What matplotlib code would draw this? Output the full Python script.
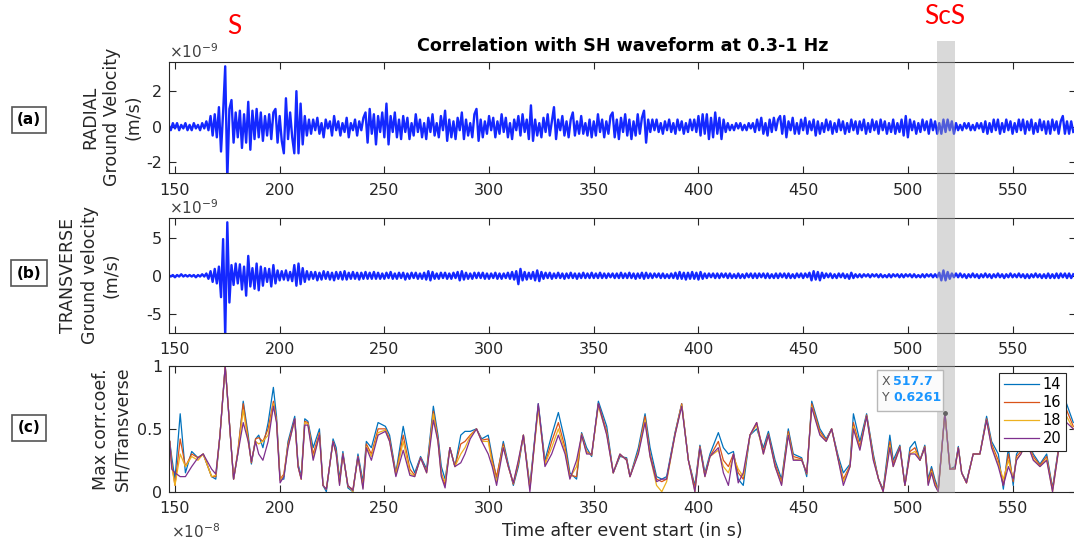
import numpy as np
import matplotlib
matplotlib.use('Agg')
import matplotlib.pyplot as plt
from matplotlib.patches import Rectangle
from matplotlib.transforms import IdentityTransform

plt.rcParams['font.family'] = 'DejaVu Sans'
plt.rcParams['axes.unicode_minus'] = False
plt.rcParams['mathtext.fontset'] = 'dejavusans'

# ground velocity, one value per second from t = 147 s, units of 1e-10 m/s
radial = [
    1, -2, 2, -1, 2, -2, 1, -1, 2, -2,
    1, -2, 2, -1, 1, -2, 2, -1, 3, -2,
    6, -5, 7, -6, 11, -14, 8, 34, -30, 10,
    15, -9, 8, -6, 9, -12, 7, -9, 14, -13,
    9, -7, 10, -6, 8, -8, 6, -5, 7, -7,
    8, 10, -9, 6, -8, -15, 16, -7, 8, -6,
    -15, 20, -15, 13, -10, 6, -5, 4, -4, 4,
    -2, 5, -4, 2, -6, 4, -1, 3, -5, 6,
    -2, 3, -5, 2, -3, 5, -6, 2, -2, 4,
    -5, 3, -2, 5, 8, -9, 10, -4, 7, -10,
    6, -3, 8, -6, 13, -10, 6, -3, 8, -6,
    4, -7, 6, -3, 5, -7, 2, -5, 7, -3,
    4, -6, 2, -7, 5, -3, 7, -5, 2, -6,
    6, -2, 9, -8, 4, -6, 3, -7, 5, -2,
    8, -7, 4, -5, 2, -6, 7, 10, -8, 4,
    -6, 3, -4, 6, -2, 5, -6, 3, -4, 7,
    -3, 5, -6, 2, -7, 4, -2, 6, -5, 7,
    -3, 4, -7, 12, -8, 4, -5, 2, -6, 5,
    -3, 7, -5, 3, 11, -7, 4, -2, 6, -5,
    3, -6, 4, 8, -5, 3, -4, 6, -4, 2,
    -5, 4, -6, 3, -5, 7, -3, 4, -6, 3,
    -4, 6, 8, -6, 4, -7, 5, -3, 7, -5,
    4, -7, 3, -5, 7, -4, 5, 9, -9, 4,
    -3, 4, -2, 4, -3, 2, -4, 3, -2, 4,
    -3, 2, -4, 4, -2, 3, -4, 2, -3, 4,
    -2, 4, -3, 6, -5, 7, -4, 7, -7, 5,
    -6, 8, -4, 5, -7, 4, -3, 2, -2, 1,
    -2, 2, -1, 2, -2, 1, -2, 2, -1, 2,
    -3, 4, -2, 5, -4, 2, -5, 4, -3, 5,
    -2, 4, 6, -4, 6, -6, 3, -2, 5, -4,
    2, -4, 4, -2, 5, -4, 3, -2, 4, -5,
    3, -4, 2, -3, 4, -2, 3, -4, 2, -3,
    4, -2, 3, -4, 2, -3, 4, -2, 3, -4,
    3, -2, 4, -4, 2, -3, 4, -2, 3, -4,
    4, -2, 3, -4, 2, -3, 4, -4, 2, -3,
    4, -5, 6, -6, 4, -2, 3, -4, 2, -3,
    4, -2, 3, -4, 4, -2, 3, -4, 2, -4,
    4, -3, 4, -2, 3, -4, 2, -2, 1, -2,
    2, -1, 2, -2, 1, -2, 2, -1, 2, -3,
    3, -4, 2, -3, 4, -2, 4, -4, 2, -3,
    4, -2, 3, -4, 2, -3, 4, -2, 4, -4,
    3, -2, 4, -4, 2, -3, 4, -2, 3, -4,
    3, -4, 4, -2, 3, -4, 3, 6, -4, 3,
    -4, 3, -3,
]

transverse = [
    1, -1, 1, -2, 1, -1, 2, -1, 1, -1,
    1, -1, 1, -2, 1, -1, 2, -1, 3, -4,
    6, -8, 9, -10, 12, -28, 48, -80, 70, -35,
    14, -12, 16, -10, 15, -18, 12, -26, 26, -14,
    10, -17, 16, -19, 12, -13, 10, -8, 9, -14,
    14, -10, 7, -6, 6, -5, 7, -6, 5, -7,
    14, -13, 16, -11, 10, -8, 6, -5, 5, -4,
    5, -6, 4, -5, 6, -4, 5, -5, 4, -6,
    5, -4, 5, -5, 6, -5, 4, -4, 5, -4,
    4, -5, 4, -4, 5, -4, 4, -4, 5, -4,
    4, -4, 3, -4, 4, -3, 5, -4, 3, -4,
    4, -3, 4, -5, 3, -4, 4, -3, 4, -4,
    3, -4, 4, -5, 6, -6, 5, -4, 3, -4,
    4, -3, 4, -4, 3, -4, 4, -3, 5, -6,
    6, -5, 4, -4, 3, -4, 4, -3, 4, -3,
    4, -4, 3, -4, 3, -3, 4, -4, 3, -4,
    3, -3, 4, -4, 5, -5, 6, -11, 9, -6,
    5, -5, 4, -4, 5, -6, 7, -7, 5, -4,
    4, -3, 4, -4, 3, -3, 4, -3, 3, -4,
    3, -3, 4, -3, 3, -4, 3, -3, 4, -3,
    3, -3, 4, -3, 3, -3, 4, -3, 3, -3,
    3, -2, 3, -3, 3, -3, 4, -3, 3, -3,
    4, -3, 3, -4, 3, -3, 4, -4, 4, -3,
    3, -3, 3, -2, 3, -3, 3, -3, 2, -3,
    3, -3, 4, -4, 5, -4, 4, -5, 4, -4,
    5, -4, 4, -5, 5, -4, 3, -3, 3, -2,
    3, -3, 3, -3, 3, -2, 3, -3, 3, -3,
    2, -3, 3, -3, 2, -3, 3, -2, 3, -3,
    3, -3, 3, -2, 3, -3, 3, -3, 2, -3,
    3, -3, 3, -2, 3, -3, 3, -3, 2, -3,
    3, -2, 3, -3, 3, -2, 4, -6, 6, -5,
    5, -6, 4, -3, 3, -2, 3, -3, 2, -3,
    3, -2, 3, -3, 2, -4, 4, -3, 2, -2,
    2, -2, 2, -1, 2, -2, 2, -1, 2, -2,
    2, -2, 1, -2, 2, -2, 2, -1, 2, -2,
    2, -2, 2, -1, 2, -2, 2, -2, 1, -2,
    2, -2, 2, -1, 2, -2, 2, -2, 4, -6,
    7, -6, 5, -4, 3, -2, 3, -2, 3, -2,
    2, -3, 2, -2, 3, -2, 2, -3, 2, -2,
    3, -2, 2, -3, 2, -2, 3, -2, 2, -3,
    2, -2, 3, -2, 2, -2, 3, -2, 2, -3,
    2, -3, 2, -2, 3, -2, 2, -3, 2, -3,
    3, -3, 2, -3, 3, -3, 3, -2, 3, -3,
    3, -3, 2,
]

# max correlation coefficient for windows of 14, 16, 18, 20 s
t_corr = [
    147.5, 148.5, 150.0, 152.5, 155.0, 158.0, 161.0, 163.5, 167.5, 169.5,
    171.5, 174.0, 176.0, 178.0, 180.0, 182.6, 185.0, 186.5, 188.5, 190.0,
    192.0, 194.5, 197.0, 198.5, 200.2, 202.0, 204.0, 207.2, 208.8, 210.3,
    212.0, 213.5, 216.0, 219.0, 220.7, 222.3, 225.5, 227.0, 228.6, 230.2,
    232.6, 235.0, 237.4, 239.8, 241.4, 243.8, 247.0, 250.5, 252.5, 255.5,
    259.0, 262.2, 264.5, 267.3, 270.2, 273.4, 275.6, 277.2, 279.0, 281.3,
    283.7, 286.5, 288.5, 291.0, 294.0, 296.5, 299.6, 301.5, 303.6, 306.8,
    309.2, 311.6, 314.0, 316.4, 319.5, 323.5, 326.7, 329.9, 333.1, 336.3,
    338.6, 341.8, 344.2, 346.6, 349.0, 352.2, 356.2, 359.3, 362.5, 365.7,
    367.3, 371.3, 374.5, 376.9, 380.0, 382.5, 384.8, 388.8, 392.0, 395.2,
    398.3, 400.7, 403.1, 405.5, 409.5, 411.9, 414.3, 416.7, 419.0, 421.4,
    424.6, 427.8, 431.0, 433.4, 436.6, 439.7, 442.9, 445.3, 449.3, 451.7,
    454.1, 458.0, 461.0, 463.6, 466.8, 469.2, 472.4, 474.0, 477.1, 480.3,
    483.5, 486.0, 488.2, 491.4, 493.0, 496.2, 498.6, 501.0, 503.4, 505.8,
    508.1, 509.7, 511.3, 512.9, 514.5, 517.7, 520.1, 522.5, 524.1, 525.7,
    528.0, 531.2, 534.4, 537.6, 540.0, 543.2, 545.6, 548.0, 550.3, 551.9,
    554.0, 556.7, 559.9, 563.1, 566.3, 569.1, 572.6, 575.8, 579.0,
]
corr_14 = [
    .40, .27, .10, .62, .15, .32, .27, .30, .12, .10,
    .45, 1.0, .55, .10, .30, .72, .45, .22, .42, .45,
    .35, .55, .83, .60, .10, .10, .40, .60, .22, .12,
    .58, .56, .35, .50, .05, .00, .42, .35, .10, .32,
    .03, .00, .30, .08, .40, .35, .55, .52, .45, .15,
    .52, .25, .15, .28, .18, .68, .45, .20, .10, .35,
    .20, .45, .48, .48, .50, .42, .45, .28, .10, .40,
    .22, .05, .20, .45, .05, .70, .25, .45, .63, .40,
    .15, .10, .47, .35, .28, .72, .52, .15, .28, .27,
    .12, .35, .62, .35, .12, .10, .12, .47, .70, .25,
    .05, .37, .15, .30, .47, .35, .30, .32, .10, .05,
    .45, .50, .35, .48, .25, .10, .50, .30, .27, .12,
    .72, .50, .42, .50, .28, .15, .22, .62, .40, .62,
    .30, .10, .02, .45, .25, .37, .05, .35, .40, .25,
    .37, .10, .20, .10, .02, .63, .18, .20, .36, .15,
    .08, .30, .30, .60, .40, .30, .02, .35, .05, .30,
    .35, .42, .30, .22, .30, .03, .42, .70, .55,
]
corr_16 = [
    .40, .22, .05, .42, .20, .30, .27, .30, .12, .12,
    .45, 1.0, .55, .10, .32, .70, .42, .23, .42, .43,
    .40, .50, .72, .57, .10, .14, .38, .58, .20, .10,
    .56, .55, .30, .47, .05, .02, .40, .32, .08, .30,
    .04, .02, .28, .05, .38, .30, .50, .50, .42, .14,
    .45, .18, .13, .27, .16, .64, .42, .15, .05, .35,
    .20, .38, .40, .45, .50, .41, .42, .25, .12, .38,
    .20, .06, .22, .45, .03, .68, .22, .40, .55, .35,
    .13, .12, .46, .32, .29, .70, .48, .15, .29, .26,
    .12, .32, .60, .30, .10, .08, .10, .46, .70, .25,
    .03, .36, .13, .28, .40, .25, .20, .30, .15, .10,
    .45, .55, .32, .46, .22, .08, .48, .28, .26, .14,
    .70, .48, .41, .50, .26, .10, .21, .55, .36, .61,
    .28, .10, .01, .40, .22, .36, .05, .32, .35, .25,
    .36, .08, .18, .08, .01, .63, .18, .19, .35, .15,
    .07, .30, .30, .58, .38, .25, .05, .30, .08, .28,
    .32, .41, .28, .21, .28, .02, .41, .65, .52,
]
corr_18 = [
    .40, .20, .05, .30, .20, .28, .25, .30, .12, .13,
    .45, 1.0, .55, .10, .30, .65, .40, .24, .40, .38,
    .40, .45, .70, .56, .09, .13, .36, .57, .20, .10,
    .55, .54, .27, .45, .05, .02, .40, .30, .06, .30,
    .05, .00, .28, .03, .36, .28, .47, .49, .40, .13,
    .40, .15, .12, .27, .15, .62, .40, .13, .08, .35,
    .20, .30, .35, .44, .50, .40, .40, .22, .08, .36,
    .20, .07, .24, .45, .02, .66, .22, .35, .50, .32,
    .11, .20, .45, .31, .30, .68, .46, .15, .30, .25,
    .12, .31, .57, .28, .05, .00, .08, .45, .69, .25,
    .00, .35, .12, .28, .33, .20, .15, .28, .18, .12,
    .45, .53, .30, .45, .20, .06, .46, .26, .25, .15,
    .68, .46, .40, .50, .25, .08, .20, .52, .34, .60,
    .26, .10, .00, .37, .20, .35, .05, .30, .32, .25,
    .35, .06, .16, .06, .00, .63, .18, .18, .35, .15,
    .07, .30, .30, .57, .36, .22, .10, .25, .10, .26,
    .30, .40, .26, .20, .26, .00, .40, .60, .50,
]
corr_20 = [
    .40, .18, .15, .12, .12, .20, .27, .30, .18, .14,
    .45, 1.0, .55, .10, .30, .55, .40, .24, .40, .30,
    .25, .40, .68, .55, .07, .12, .35, .58, .20, .10,
    .53, .53, .25, .45, .05, .02, .40, .30, .05, .30,
    .05, .01, .28, .02, .35, .25, .45, .48, .40, .12,
    .33, .13, .12, .27, .15, .57, .40, .12, .03, .35,
    .20, .23, .30, .42, .50, .40, .30, .20, .05, .35,
    .20, .07, .25, .45, .00, .70, .20, .30, .45, .30,
    .10, .25, .45, .30, .30, .70, .45, .15, .30, .25,
    .12, .30, .55, .28, .08, .10, .10, .45, .68, .25,
    .00, .35, .12, .28, .35, .15, .05, .30, .07, .15,
    .45, .55, .30, .45, .20, .05, .45, .25, .25, .15,
    .67, .45, .40, .50, .25, .05, .20, .50, .33, .60,
    .25, .10, .00, .35, .20, .35, .05, .30, .30, .25,
    .35, .05, .15, .05, .00, .63, .18, .18, .35, .15,
    .07, .30, .30, .57, .35, .20, .05, .20, .10, .25,
    .30, .40, .25, .20, .25, .00, .40, .55, .50,
]
window_labels = ['14', '16', '18', '20']
window_colors = ['#0072BD', '#D95319', '#EDB120', '#7E2F8E']

scs_window = (513.7, 522.4)
tip_x, tip_y = 517.7, 0.6261

W, H = 1074, 542
fig = plt.figure(figsize=(W / 100, H / 100), dpi=100)


def add_ax(left, top, right, bottom):
    return fig.add_axes([left / W, 1 - bottom / H, (right - left) / W, (bottom - top) / H])


ax_a = add_ax(169.3, 61.7, 1076, 173)
ax_b = add_ax(169.3, 217.7, 1076, 332.7)
ax_c = add_ax(169.3, 366, 1076, 491.7)

txt = '#262626'
wave_blue = '#1428ff'

t_wave = np.arange(147, 147 + len(radial))
ax_a.plot(t_wave, np.array(radial) / 10, color=wave_blue, lw=1.7)
ax_b.plot(t_wave, np.array(transverse) / 10, color=wave_blue, lw=1.7)

series = [corr_14, corr_16, corr_18, corr_20]
for vals, lab, col in zip(series, window_labels, window_colors):
    ax_c.plot(t_corr, vals, color=col, lw=0.9, label=lab)

ax_a.set_ylim(-2.61, 3.66)
ax_a.set_yticks([-2, 0, 2])
ax_b.set_ylim(-7.45, 7.6)
ax_b.set_yticks([-5, 0, 5])
ax_c.set_ylim(0, 1)
ax_c.set_yticks([0, 0.5, 1])
ax_c.set_yticklabels(['0', '0.5', '1'])

for ax in (ax_a, ax_b, ax_c):
    ax.set_xlim(147.3, 580.3)
    ax.set_xticks(np.arange(150, 551, 50))
    ax.tick_params(direction='in', top=True, right=True, length=5, width=0.8,
                   colors=txt, labelsize=11.5)
    ax.tick_params(axis='x', pad=7)
    ax.tick_params(axis='y', pad=5)
    for sp in ax.spines.values():
        sp.set_color(txt)
        sp.set_linewidth(0.8)

ax_a.set_ylabel('RADIAL\nGround Velocity\n(m/s)', fontsize=12.5, color=txt, linespacing=1.25)
ax_a.yaxis.set_label_coords(-0.03, 0.5)
ax_b.set_ylabel('TRANSVERSE\nGround velocity\n(m/s)', fontsize=12.5, color=txt, linespacing=1.25)
ax_b.yaxis.set_label_coords(-0.054, 0.5)
ax_c.set_ylabel('Max corr.coef.\nSH/Transverse', fontsize=12.5, color=txt, linespacing=1.25)
ax_c.yaxis.set_label_coords(-0.042, 0.5)
ax_c.set_xlabel('Time after event start (in s)', fontsize=12.5, color=txt)
ax_c.xaxis.set_label_coords(0.5, -0.24)

fig.text(623 / W, 1 - 46 / H, 'Correlation with SH waveform at 0.3-1 Hz',
         ha='center', va='center', fontsize=12.6, fontweight='bold', color='black')

for ax in (ax_a, ax_b):
    ax.text(0.0, 1.01, r'$\times10^{-9}$', transform=ax.transAxes, ha='left', va='bottom',
            fontsize=11, color='#404040')
fig.text(171 / W, 1 - 541 / H, r'$\times10^{-8}$', ha='left', va='bottom', fontsize=11, color='#404040')

for lab, yc in (('(a)', 120), ('(b)', 273), ('(c)', 428)):
    fig.text(29 / W, 1 - yc / H, lab, ha='center', va='center', fontsize=11, fontweight='bold',
             color='black', bbox=dict(boxstyle='square,pad=0.35', fc='white', ec='#555555', lw=1.2))

fig.text(234.5 / W, 1 - 26 / H, 'S', ha='center', va='center', fontsize=19, color='#ff0000',
         family=['Lato', 'DejaVu Sans'])
fig.text(945 / W, 1 - 16 / H, 'ScS', ha='center', va='center', fontsize=19, color='#ff0000',
         family=['Lato', 'DejaVu Sans'])

leg = ax_c.legend(loc='upper right', bbox_to_anchor=(1066 / W, 1 - 373 / H),
                  bbox_transform=fig.transFigure, borderaxespad=0, fontsize=10.5,
                  handlelength=2.4, handletextpad=0.3, labelspacing=0.2, borderpad=0.3,
                  fancybox=False, framealpha=1)
leg.get_frame().set_edgecolor(txt)
leg.get_frame().set_linewidth(0.8)

# grey band marking the ScS window, across all panels
x0 = ax_c.transData.transform((scs_window[0], 0))[0] / W
x1 = ax_c.transData.transform((scs_window[1], 0))[0] / W
fig.add_artist(Rectangle((x0, 1 - 493 / H), x1 - x0, (493 - 41) / H, transform=fig.transFigure,
                         fc='#a6a6a6', ec='none', alpha=0.42, zorder=5))

# data tip on the ScS peak
ax_c.plot([tip_x], [tip_y], 'o', ms=2.5, color='#333333', zorder=6)
px, py = ax_c.transData.transform((tip_x, tip_y))
fig.add_artist(Rectangle((px - 68, py + 2), 66, 41, transform=IdentityTransform(),
                         fc='#fbfbfb', ec='#b8b8b8', lw=1, zorder=7))
for lab, val, dy in (('X', f'{tip_x:.1f}', 31), ('Y', f'{tip_y:.4f}', 15)):
    fig.text(px - 63, py + dy, lab, transform=IdentityTransform(), ha='left', va='center',
             fontsize=9, color='#555555', zorder=8)
    fig.text(px - 52, py + dy, val, transform=IdentityTransform(), ha='left', va='center',
             fontsize=9, fontweight='bold', color='#1a96ff', zorder=8)

fig.savefig('out.png', dpi=100)
